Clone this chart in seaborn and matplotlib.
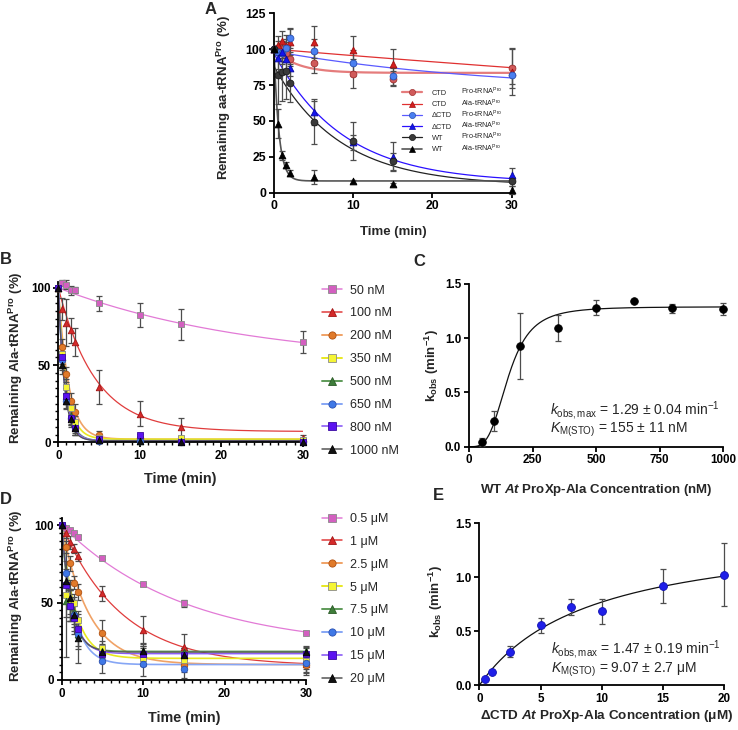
import numpy as np
import pandas as pd
import matplotlib.pyplot as plt
import seaborn as sns
from matplotlib.lines import Line2D
from matplotlib.ticker import MultipleLocator, FormatStrFormatter

sns.set_style('ticks')
plt.rcParams['font.family'] = ['Liberation Sans', 'DejaVu Sans']
plt.rcParams.update({
    'axes.labelweight': 'bold',
    'axes.linewidth': 1.3,
    'axes.edgecolor': 'black',
    'xtick.color': 'black', 'ytick.color': 'black',
    'xtick.major.width': 1.3, 'ytick.major.width': 1.3,
    'xtick.minor.width': 1.0, 'ytick.minor.width': 1.0,
    'xtick.major.size': 3.6, 'ytick.major.size': 3.6,
    'xtick.minor.size': 2.2, 'ytick.minor.size': 2.2,
    'xtick.major.pad': 2, 'ytick.major.pad': 2,
    'mathtext.fontset': 'custom',
    'mathtext.rm': 'Liberation Sans',
    'mathtext.it': 'Liberation Sans:italic',
    'mathtext.bf': 'Liberation Sans:bold',
    'mathtext.bfit': 'Liberation Sans:italic:bold',
})

# ---------------- data ----------------
times = [0, 0.5, 1, 1.5, 2, 5, 10, 15, 30]

# A: remaining aa-tRNAPro (%)
a_enzyme = ['CTD', 'CTD', 'ΔCTD', 'ΔCTD', 'WT', 'WT']
a_substrate = ['Pro', 'Ala', 'Pro', 'Ala', 'Pro', 'Ala']
a_ctd_pro = [100, 101, 100, 97, 93, 90.5, 83, 79.5, 87]
a_ctd_ala = [100, 103, 106, 102, 105, 105, 99.5, 90, 84]
a_dctd_pro = [100, 98, 97, 101, 107.5, 99, 90.5, 81, 82]
a_dctd_ala = [100, 94, 98, 93, 87, 56, 35, 25, 12.5]
a_wt_pro = [100, 82, 84, 85, 76.5, 49, 36, 22, 8]
a_wt_ala = [100, 48, 26, 19.5, 13.5, 11, 8, 6, 2]
a_ctd_pro_sd = [0, 5, 6, 6, 5, 7, 10, 5, 14]
a_ctd_ala_sd = [0, 6, 7, 8, 9, 11, 10, 10, 16]
a_dctd_pro_sd = [0, 5, 5, 6, 7, 8, 9, 6, 6]
a_dctd_ala_sd = [0, 8, 8, 8, 6, 9, 5, 10, 5]
a_wt_pro_sd = [0, 20, 20, 20, 13, 15, 13, 6, 3]
a_wt_ala_sd = [0, 10, 3, 2, 2, 5, 1, 1, 3]
# one-phase decay fits: plateau + (y0 - plateau) * exp(-k t)
a_fit_y0 = [100, 100, 98.5, 97, 88, 100]
a_fit_plateau = [83.5, 0, 70, 7, 5, 8.2]
a_fit_k = [0.35, 0.0046, 0.035, 0.115, 0.12, 1.6]

# B: WT enzyme concentrations
b_labels = ['50 nM', '100 nM', '200 nM', '350 nM', '500 nM', '650 nM', '800 nM', '1000 nM']
b_50 = [100, 103, 102, 98.5, 98.5, 90, 82.5, 76.5, 65]
b_100 = [100, 86.5, 77.5, 72.5, 65, 36, 18.5, 10, 3]
b_200 = [100, 62, 44, 27, 19.5, 5, 2.5, 1, 1]
b_350 = [100, 57, 36, 22, 13, 3, 2, 2.5, 1.5]
b_500 = [100, 55, 30, 17, 10, 1.5, 1, 1, 1]
b_650 = [100, 53, 26.5, 16, 9, 1, 1, 0.5, 0.5]
b_800 = [100, 55, 30, 16, 9, 2, 4.5, 0.5, 0.5]
b_1000 = [100, 50, 27, 15, 9, 1.5, 1, 0.5, 0.5]
b_50_sd = [0, 2, 3, 3, 2, 5, 8, 10, 7]
b_100_sd = [0, 7, 15, 8, 9, 11, 8, 6, 2]
b_200_sd = [0, 5, 5, 5, 5, 2, 1, 1, 1]
b_other_sd = [0, 6, 5, 5, 4, 1, 1, 1, 1]
b_fit_plateau = [50, 7, 2, 2, 1, 1, 1, 1]
b_fit_k = [0.041, 0.22, 0.8, 1.0, 1.2, 1.3, 1.25, 1.35]

# C: kobs vs WT concentration
c_conc = [50, 100, 200, 350, 500, 650, 800, 1000]
c_kobs = [0.043, 0.237, 0.929, 1.092, 1.283, 1.345, 1.274, 1.268]
c_sd = [0.04, 0.09, 0.305, 0.12, 0.065, 0.0, 0.045, 0.055]
c_kmax, c_km, c_hill = 1.29, 155, 3.5

# D: dCTD enzyme concentrations
d_labels = ['0.5 μM', '1 μM', '2.5 μM', '5 μM', '7.5 μM', '10 μM', '15 μM', '20 μM']
d_05 = [100, 98.5, 97, 95, 92.5, 79, 62, 49.5, 30.5]
d_1 = [100, 95, 89, 85, 80, 56, 32.5, 21.5, 10.5]
d_25 = [100, 86, 75.5, 63, 57, 30.5, 15, 10, 9.5]
d_5 = [100, 55, 51, 49.5, 38.5, 21, 14, 13, 12]
d_75 = [100, 51, 48, 44, 30, 19, 19, 18, 18.5]
d_10 = [100, 69, 48, 42, 30, 12.5, 10.5, 7, 11]
d_15 = [100, 61.5, 48, 40, 33, 17, 17, 16, 16.5]
d_20 = [100, 64, 53, 42, 27, 18, 19, 16, 18]
d_05_sd = [0, 1, 1, 1, 1, 1, 1, 2, 1]
d_1_sd = [0, 3, 4, 3, 3, 5, 9, 8, 6]
d_25_sd = [0, 4, 5, 4, 5, 8, 6, 5, 6]
d_5_sd = [0, 40, 8, 6, 6, 4, 4, 4, 5]
d_75_sd = [0, 10, 10, 8, 8, 3, 3, 3, 3]
d_10_sd = [0, 8, 10, 8, 10, 8, 8, 6, 6]
d_15_sd = [0, 8, 10, 8, 6, 3, 5, 5, 4]
d_20_sd = [0, 8, 12, 12, 16, 5, 5, 5, 4]
d_fit_plateau = [20, 9, 10, 14, 18.5, 10, 17, 18]
d_fit_k = [0.066, 0.134, 0.3, 0.6, 0.9, 0.65, 0.8, 0.85]

# E: kobs vs dCTD concentration
e_conc = [0.5, 1, 2.5, 5, 7.5, 10, 15, 20]
e_kobs = [0.059, 0.127, 0.312, 0.556, 0.725, 0.685, 0.92, 1.025]
e_sd = [0, 0, 0.05, 0.07, 0.07, 0.117, 0.155, 0.29]
e_kmax, e_km = 1.47, 9.07

# ---------------- styles ----------------
a_face = ['#d05a5a', '#d42020', '#4a7ff0', '#1414f0', '#3a3a3a', '#000000']
a_edge = ['#a03030', '#a01010', '#2a50b0', '#0a0aa0', '#1a1a1a', '#000000']
a_line = ['#e57c7c', '#e03030', '#5a5aff', '#2a10ff', '#222222', '#555555']
a_lw = [1.6, 0.9, 0.9, 0.9, 0.9, 1.2]
a_marker = ['o', '^', 'o', '^', 'o', '^']

s8_face = ['#d35fc0', '#d42a2a', '#e07a2a', '#f5f534', '#3e7d3a', '#3f78e6', '#5b12f0', '#111111']
s8_edge = ['#8a8a8a', '#a31515', '#b05010', '#8a8a8a', '#2a5a26', '#2a50b0', '#3a0aa0', '#000000']
s8_line = ['#e27ad6', '#e03c3c', '#f0a266', '#e8e820', '#5e9a58', '#86a6f5', '#8b5cf6', '#555555']
s8_lw = [0.9, 0.9, 1.2, 1.2, 1.2, 1.2, 1.0, 0.9]
s8_marker = ['s', '^', 'o', 's', '^', 'o', 's', '^']

ERR = '#4d4d4d'
t_fit = np.linspace(0, 30, 301)


def draw_series(ax, x, y, sd, fit_x, fit_y, face, edge, line, lw, marker, s):
    sns.lineplot(x=fit_x, y=fit_y, color=line, lw=lw, ax=ax, zorder=2)
    keep = [i for i, e in enumerate(sd) if e > 0]
    ax.errorbar([x[i] for i in keep], [y[i] for i in keep], yerr=[sd[i] for i in keep],
                fmt='none', ecolor=ERR, elinewidth=0.9, capsize=2.2, capthick=0.9,
                zorder=3, clip_on=False)
    sns.scatterplot(x=x, y=y, marker=marker, color=face, edgecolor=edge, linewidth=0.6,
                    s=s, ax=ax, zorder=4, clip_on=False, legend=False)


def decay(y0, plateau, k):
    return plateau + (y0 - plateau) * np.exp(-k * t_fit)


fig = plt.figure(figsize=(7.38, 7.30), dpi=100)
ax_a = fig.add_axes([0.3713, 0.7360, 0.3221, 0.2458])
ax_b = fig.add_axes([0.0790, 0.3941, 0.3312, 0.2200])
ax_c = fig.add_axes([0.6355, 0.3881, 0.3442, 0.2229])
ax_d = fig.add_axes([0.0836, 0.0685, 0.3310, 0.2223])
ax_e = fig.add_axes([0.6495, 0.0612, 0.3316, 0.2219])

# ---- A ----
a_vals = [a_ctd_pro, a_ctd_ala, a_dctd_pro, a_dctd_ala, a_wt_pro, a_wt_ala]
a_sds = [a_ctd_pro_sd, a_ctd_ala_sd, a_dctd_pro_sd, a_dctd_ala_sd, a_wt_pro_sd, a_wt_ala_sd]
for i in range(6):
    draw_series(ax_a, times, a_vals[i], a_sds[i], t_fit,
                decay(a_fit_y0[i], a_fit_plateau[i], a_fit_k[i]),
                a_face[i], a_edge[i], a_line[i], a_lw[i], a_marker[i], 24)
ax_a.set_xlim(0, 30)
ax_a.set_ylim(0, 125)
ax_a.set_xticks([0, 10, 20, 30])
ax_a.set_yticks([0, 25, 50, 75, 100, 125])
ax_a.set_xlabel('Time (min)', fontsize=9.5)
ax_a.set_ylabel(r'Remaining aa-tRNA$^{\mathbf{Pro}}$ (%)', fontsize=9.5)
ax_a.xaxis.set_label_coords(0.5, -0.186)
ax_a.yaxis.set_label_coords(-0.171, 0.53)
ax_a.tick_params(labelsize=8.8)

a_handles = [Line2D([], [], color=a_line[i], lw=a_lw[i], marker=a_marker[i],
                    markerfacecolor=a_face[i], markeredgecolor=a_edge[i],
                    markeredgewidth=0.5, markersize=4.4) for i in range(6)]
leg_a = ax_a.legend(a_handles, a_enzyme, loc='upper left',
                    bbox_to_anchor=(402 / 738, 1 - 89.7 / 730), bbox_transform=fig.transFigure,
                    frameon=False, prop={'size': 5.3},
                    handlelength=2.7, handletextpad=1.36, labelspacing=0.56,
                    borderpad=0, borderaxespad=0)

# ---- B and D ----
b_vals = [b_50, b_100, b_200, b_350, b_500, b_650, b_800, b_1000]
b_sds = [b_50_sd, b_100_sd, b_200_sd] + [b_other_sd] * 5
d_vals = [d_05, d_1, d_25, d_5, d_75, d_10, d_15, d_20]
d_sds = [d_05_sd, d_1_sd, d_25_sd, d_5_sd, d_75_sd, d_10_sd, d_15_sd, d_20_sd]

for ax, vals, sds, plats, ks, labels, top, leg_top in [
        (ax_b, b_vals, b_sds, b_fit_plateau, b_fit_k, b_labels, 104, 284.6),
        (ax_d, d_vals, d_sds, d_fit_plateau, d_fit_k, d_labels, 105, 512.9)]:
    for i in range(8):
        draw_series(ax, times, vals[i], sds[i], t_fit, decay(100, plats[i], ks[i]),
                    s8_face[i], s8_edge[i], s8_line[i], s8_lw[i], s8_marker[i], 22)
    ax.set_xlim(0, 30)
    ax.set_ylim(0, top)
    ax.set_xticks([0, 10, 20, 30])
    ax.set_yticks([0, 50, 100])
    ax.xaxis.set_minor_locator(MultipleLocator(1))
    ax.yaxis.set_minor_locator(MultipleLocator(5))
    ax.tick_params(labelsize=8.4)
    ax.set_xlabel('Time (min)', fontsize=10.4)
    ax.set_ylabel(r'Remaining Ala-tRNA$^{\mathbf{Pro}}$ (%)', fontsize=9.6)
    handles = [Line2D([], [], color=s8_line[i], lw=s8_lw[i] + 0.2, marker=s8_marker[i],
                      markerfacecolor=s8_face[i], markeredgecolor=s8_edge[i],
                      markeredgewidth=0.6, markersize=5.2) for i in range(8)]
    fig.legend(handles, labels, loc='upper left', bbox_to_anchor=(322 / 738, 1 - leg_top / 730),
               frameon=False, prop={'size': 9},
               handlelength=1.6, handletextpad=0.64, labelspacing=0.87,
               borderpad=0, borderaxespad=0)

ax_b.xaxis.set_label_coords(0.5, -0.185)
ax_b.yaxis.set_label_coords(-0.136, 0.53)
ax_d.xaxis.set_label_coords(0.5, -0.189)
ax_d.yaxis.set_label_coords(-0.150, 0.52)

# ---- C ----
c_x = np.linspace(0, 1000, 501)
c_fit = c_kmax * c_x ** c_hill / (c_km ** c_hill + c_x ** c_hill)
draw_series(ax_c, c_conc, c_kobs, c_sd, c_x, c_fit,
            '#000000', '#000000', '#111111', 0.9, 'o', 30)
ax_c.set_xlim(0, 1000)
ax_c.set_ylim(0, 1.5)
ax_c.set_xticks([0, 250, 500, 750, 1000])
ax_c.set_yticks([0, 0.5, 1.0, 1.5])
ax_c.yaxis.set_major_formatter(FormatStrFormatter('%.1f'))
ax_c.tick_params(labelsize=8.4)
ax_c.set_xlabel(r'WT $\mathbfit{At}$ ProXp-Ala Concentration (nM)', fontsize=9.5)
ax_c.set_ylabel(r'k$_{\mathbf{obs}}$ (min$^{\mathbf{-1}}$)', fontsize=9.5)
ax_c.xaxis.set_label_coords(0.5, -0.215)
ax_c.yaxis.set_label_coords(-0.112, 0.5)
ax_c.text(0.319, 0.197, r'$\mathit{k}_{\mathrm{obs,max}}$ = 1.29 ± 0.04 min$^{\mathrm{-1}}$',
          transform=ax_c.transAxes, fontsize=10, va='baseline')
ax_c.text(0.319, 0.088, r'$\mathit{K}_{\mathrm{M(STO)}}$ = 155 ± 11 nM',
          transform=ax_c.transAxes, fontsize=10, va='baseline')

# ---- E ----
e_x = np.linspace(0, 20, 401)
e_fit = e_kmax * e_x / (e_km + e_x)
draw_series(ax_e, e_conc, e_kobs, e_sd, e_x, e_fit,
            '#1f1fe8', '#1010b0', '#111111', 0.9, 'o', 32)
ax_e.set_xlim(0, 20)
ax_e.set_ylim(0, 1.5)
ax_e.set_xticks([0, 5, 10, 15, 20])
ax_e.set_yticks([0, 0.5, 1.0, 1.5])
ax_e.yaxis.set_major_formatter(FormatStrFormatter('%.1f'))
ax_e.tick_params(labelsize=8.4)
ax_e.set_xlabel(r'ΔCTD $\mathbfit{At}$ ProXp-Ala Concentration (μM)', fontsize=9.7)
ax_e.set_ylabel(r'k$_{\mathbf{obs}}$ (min$^{\mathbf{-1}}$)', fontsize=9.5)
ax_e.xaxis.set_label_coords(0.52, -0.14)
ax_e.yaxis.set_label_coords(-0.140, 0.516)
ax_e.text(0.293, 0.195, r'$\mathit{k}_{\mathrm{obs,max}}$ = 1.47 ± 0.19 min$^{\mathrm{-1}}$',
          transform=ax_e.transAxes, fontsize=10, va='baseline')
ax_e.text(0.293, 0.078, r'$\mathit{K}_{\mathrm{M(STO)}}$ = 9.07 ± 2.7 μM',
          transform=ax_e.transAxes, fontsize=10, va='baseline')

for ax in [ax_a, ax_b, ax_c, ax_d, ax_e]:
    for lab in ax.get_xticklabels() + ax.get_yticklabels():
        lab.set_fontweight('bold')
sns.despine(fig=fig)

# panel letters
for letter, (px, py) in zip('ABCDE', [(211, 9), (6, 260), (419, 262), (6, 499), (438, 496)]):
    fig.text(px / 738, 1 - py / 730, letter, fontsize=12, weight='bold', ha='center', va='center')

# second column of the A legend, aligned on the legend rows
fig.canvas.draw()
for txt, sub in zip(leg_a.get_texts(), a_substrate):
    _, yb = txt.get_transform().transform(txt.get_position())
    fig.text(461 / 738, yb / fig.bbox.height, sub + r'-tRNA$^{\mathrm{Pro}}$',
             fontsize=5.3, va='baseline')

fig.savefig('out.png', dpi=100)
